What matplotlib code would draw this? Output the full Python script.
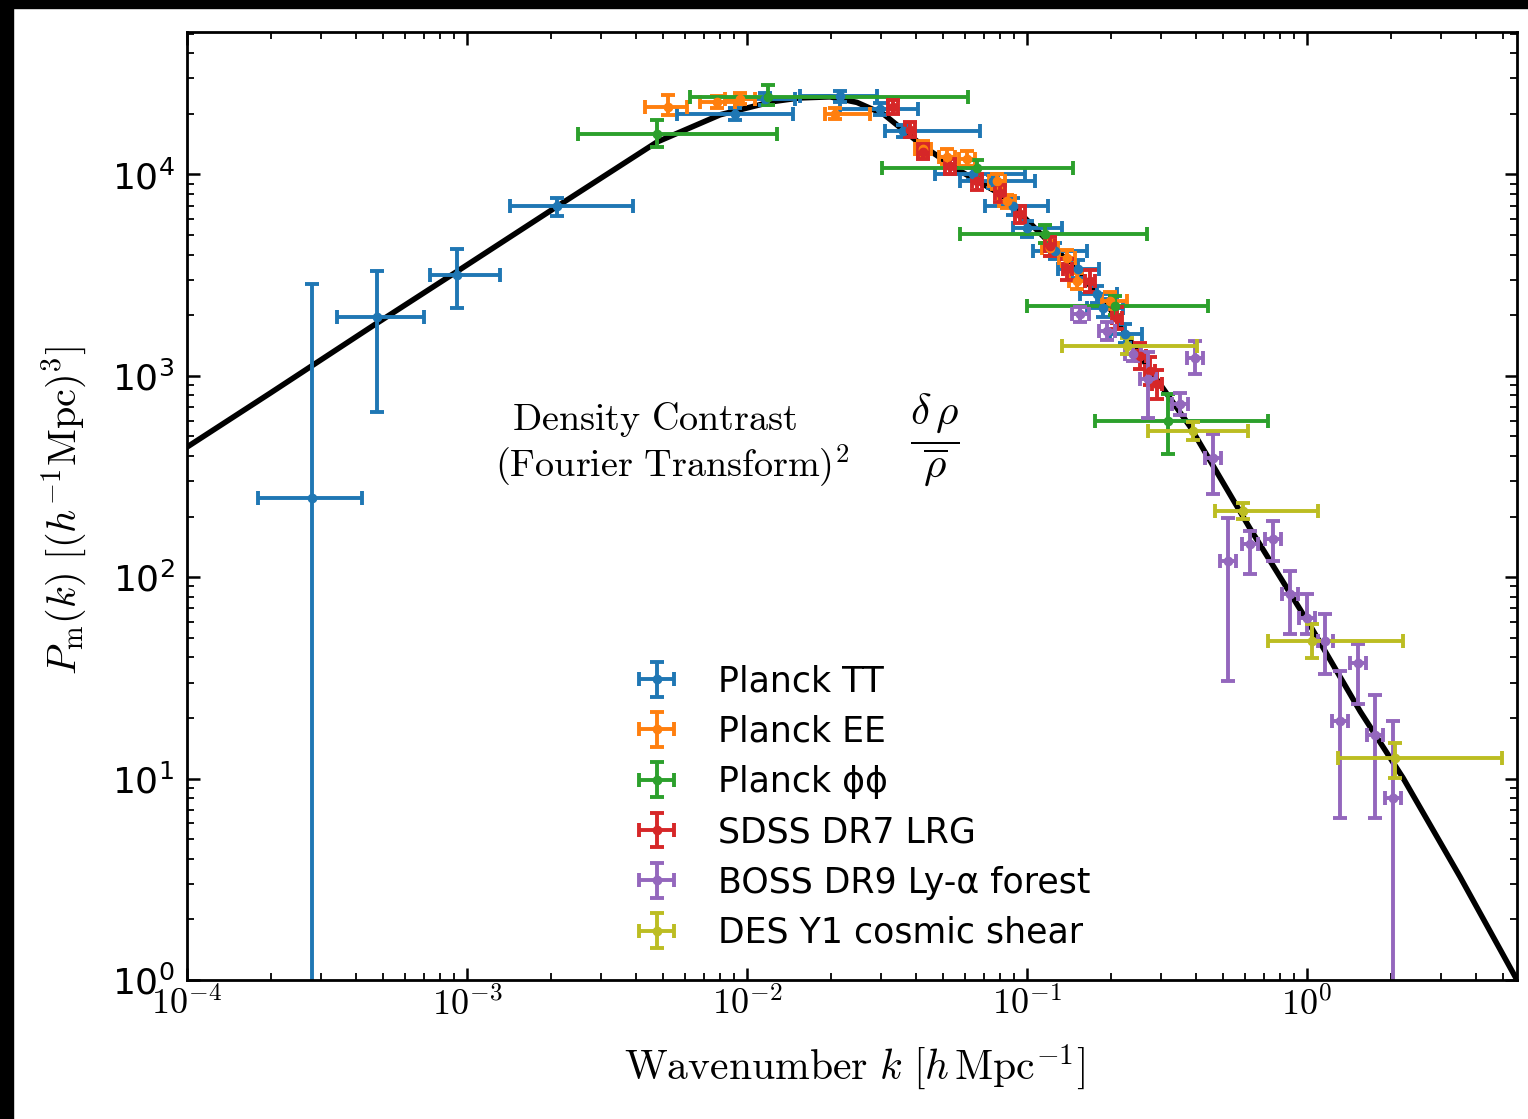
import numpy as np
import matplotlib
matplotlib.use("Agg")
import matplotlib.pyplot as plt
from matplotlib.patches import Rectangle
from matplotlib.ticker import NullFormatter

plt.rcParams['font.family'] = ['DejaVu Sans']
plt.rcParams['mathtext.fontset'] = 'cm'

# --- data ----------------------------------------------------------------
# theory curve (k in h/Mpc, P in (Mpc/h)^3)
theory_k = [1e-4, 1.98e-4, 4.69e-4, 9.21e-4, 2.10e-3, 4.77e-3, 8.02e-3, 0.0123,
            0.0154, 0.0198, 0.0247, 0.0308, 0.0426, 0.0577, 0.0802, 0.0969,
            0.126, 0.158, 0.198, 0.254, 0.382, 0.625, 1.03, 1.55, 2.20, 3.52, 5.62]
theory_P = [443, 820, 1800, 3300, 6950, 14500, 19800, 23000,
            24000, 24300, 22800, 19900, 13800, 10400, 8000, 6200,
            4300, 3100, 2150, 1250, 560, 175, 57.0, 21.5, 10.1, 3.25, 1.0]

# Planck TT
tt_k = [2.79e-4, 4.77e-4, 9.21e-4, 2.10e-3, 9.06e-3, 0.0116, 0.0215, 0.0298, 0.0360,
        0.0641, 0.0757, 0.0891, 0.100, 0.126, 0.152, 0.178, 0.187, 0.224]
tt_klo = [1.79e-4, 3.43e-4, 7.38e-4, 1.42e-3, 5.62e-3, 9.2e-3, 0.0154, 0.0215, 0.0311,
          0.0469, 0.0577, 0.0708, 0.0891, 0.105, 0.129, 0.155, 0.164, 0.198]
tt_khi = [4.22e-4, 7.02e-4, 1.31e-3, 3.92e-3, 0.0146, 0.0148, 0.0291, 0.0408, 0.0679,
          0.0984, 0.107, 0.119, 0.133, 0.164, 0.181, 0.209, 0.220, 0.258]
tt_P = [248, 1955, 3170, 6940, 20000, 23800, 24400, 21200, 16500,
        10100, 9230, 6940, 5400, 4150, 3380, 2540, 2170, 1610]
tt_Plo = [0.01, 661, 2170, 6200, 18700, 22200, 22800, 19800, 15400,
          9400, 8600, 6300, 4900, 3800, 3050, 2300, 1950, 1450]
tt_Phi = [2850, 3300, 4250, 7600, 21400, 25500, 26100, 22700, 17700,
          10800, 9900, 7600, 5900, 4550, 3750, 2800, 2400, 1800]

# Planck EE
ee_k = [5.22e-3, 7.82e-3, 9.44e-3, 0.0206, 0.0426, 0.0518, 0.0611, 0.0782, 0.0849,
        0.121, 0.139, 0.151, 0.198]
ee_klo = [4.33e-3, 6.79e-3, 8.34e-3, 0.0190, 0.0398, 0.0485, 0.0573, 0.0731, 0.0795,
          0.113, 0.130, 0.141, 0.185]
ee_khi = [6.11e-3, 9.06e-3, 0.0107, 0.0275, 0.0454, 0.0553, 0.0652, 0.0834, 0.0906,
          0.129, 0.148, 0.161, 0.227]
ee_P = [21700, 23000, 23800, 20000, 13460, 12280, 12000, 9230, 7350, 4300, 3830, 2950, 2350]
ee_Plo = [19800, 21500, 22300, 18800, 12300, 11300, 11000, 8500, 6800, 3950, 3500, 2700, 2150]
ee_Phi = [24900, 24600, 25400, 21300, 14700, 13400, 13100, 10000, 7950, 4700, 4200, 3250, 2600]

# Planck phi-phi
pp_k = [4.77e-3, 0.0119, 0.0662, 0.116, 0.206, 0.319]
pp_klo = [2.49e-3, 6.25e-3, 0.0303, 0.0577, 0.100, 0.175]
pp_khi = [0.0128, 0.0615, 0.146, 0.269, 0.443, 0.726]
pp_P = [15960, 24370, 10720, 5040, 2220, 597]
pp_Plo = [13760, 22220, 9800, 4550, 2000, 409]
pp_Phi = [18750, 27900, 11800, 5600, 2480, 812]

# SDSS DR7 LRG
lrg_k = [0.0332, 0.0382, 0.0426, 0.0531, 0.0662, 0.0802, 0.0944, 0.121, 0.139,
         0.168, 0.209, 0.254, 0.275, 0.291]
lrg_klo = [0.0319, 0.0367, 0.0409, 0.0510, 0.0636, 0.0770, 0.0907, 0.116, 0.134,
           0.161, 0.201, 0.244, 0.264, 0.280]
lrg_khi = [0.0346, 0.0398, 0.0443, 0.0553, 0.0689, 0.0835, 0.0983, 0.126, 0.145,
           0.175, 0.218, 0.265, 0.286, 0.303]
lrg_P = [21700, 16700, 13000, 10960, 9230, 8050, 6340, 4400, 3380, 2950, 1930, 1250, 1057, 910]
lrg_Plo = [20000, 15300, 11900, 10000, 8400, 7300, 5750, 3950, 3000, 2600, 1700, 1080, 900, 770]
lrg_Phi = [23500, 18200, 14200, 12000, 10100, 8850, 6950, 4900, 3800, 3350, 2200, 1450, 1240, 1070]

# BOSS DR9 Ly-alpha forest
lya_k = [0.155, 0.193, 0.239, 0.270, 0.352, 0.398, 0.461, 0.522, 0.625, 0.757,
         0.869, 1.00, 1.16, 1.31, 1.52, 1.75, 2.03]
lya_klo = [0.145, 0.181, 0.224, 0.253, 0.330, 0.373, 0.432, 0.489, 0.585, 0.709,
           0.814, 0.936, 1.09, 1.23, 1.42, 1.64, 1.90]
lya_khi = [0.166, 0.206, 0.255, 0.288, 0.376, 0.425, 0.492, 0.557, 0.668, 0.808,
           0.928, 1.07, 1.24, 1.40, 1.62, 1.87, 2.17]
lya_P = [2024, 1667, 1283, 964, 724, 1225, 391, 121, 147, 155, 83, 63, 48.4, 19.4, 37.3, 16.4, 8.0]
lya_Plo = [1850, 1500, 1180, 617, 640, 1020, 259, 30.7, 104, 120, 52.5, 52, 33, 6.4, 23.6, 6.4, 0.01]
lya_Phi = [2200, 1850, 1400, 1320, 820, 1490, 514, 197, 170, 190, 108, 83, 66, 34.4, 46.8, 25.9, 19.4]

# DES Y1 cosmic shear
des_k = [0.228, 0.392, 0.590, 1.04, 2.06]
des_klo = [0.133, 0.270, 0.469, 0.726, 1.29]
des_khi = [0.405, 0.615, 1.09, 2.20, 4.97]
des_P = [1404, 532, 214, 48.4, 12.6]
des_Plo = [1280, 480, 195, 39.9, 10.1]
des_Phi = [1540, 590, 235, 58.9, 15.0]

labels = ['Planck TT', 'Planck EE', 'Planck ϕϕ', 'SDSS DR7 LRG',
          'BOSS DR9 Ly-α forest', 'DES Y1 cosmic shear']
colors = ['#1f77b4', '#ff7f0e', '#2ca02c', '#d62728', '#9467bd', '#bcbd22']

x_ticks = [1e-4, 1e-3, 1e-2, 1e-1, 1e0]
x_tick_labels = [r'$10^{-4}$', r'$10^{-3}$', r'$10^{-2}$', r'$10^{-1}$', r'$10^{0}$']
y_ticks = [1e0, 1e1, 1e2, 1e3, 1e4]
y_tick_labels = [r'$10^{0}$', r'$10^{1}$', r'$10^{2}$', r'$10^{3}$', r'$10^{4}$']

datasets = [
    (tt_k, tt_klo, tt_khi, tt_P, tt_Plo, tt_Phi),
    (ee_k, ee_klo, ee_khi, ee_P, ee_Plo, ee_Phi),
    (pp_k, pp_klo, pp_khi, pp_P, pp_Plo, pp_Phi),
    (lrg_k, lrg_klo, lrg_khi, lrg_P, lrg_Plo, lrg_Phi),
    (lya_k, lya_klo, lya_khi, lya_P, lya_Plo, lya_Phi),
    (des_k, des_klo, des_khi, des_P, des_Plo, des_Phi),
]

# --- figure ---------------------------------------------------------------
fig = plt.figure(figsize=(15.28, 11.19), dpi=100)
ax = fig.add_axes([187 / 1528, 139 / 1119, 1330 / 1528, 948 / 1119])

ax.plot(theory_k, theory_P, color='black', lw=4.0, zorder=1)

for (k, klo, khi, P, Plo, Phi), lab, col in zip(datasets, labels, colors):
    k = np.array(k)
    P = np.array(P)
    xerr = [k - np.array(klo), np.array(khi) - k]
    yerr = [P - np.array(Plo), np.array(Phi) - P]
    ax.errorbar(k, P, xerr=xerr, yerr=yerr, fmt='o', color=col, ms=6,
                elinewidth=2.8, capsize=5, capthick=2.8, label=lab, zorder=2)

ax.set_xscale('log')
ax.set_yscale('log')
ax.set_xlim(1e-4, 5.62)
ax.set_ylim(1, 5.1e4)

ax.set_xticks(x_ticks)
ax.set_xticklabels(x_tick_labels, fontsize=26, math_fontfamily='cm')
ax.set_yticks(y_ticks)
ax.set_yticklabels(y_tick_labels, fontsize=26, math_fontfamily='dejavusans')
ax.xaxis.set_minor_formatter(NullFormatter())
ax.yaxis.set_minor_formatter(NullFormatter())

ax.tick_params(which='both', direction='in', top=True, right=True)
ax.tick_params(which='major', length=9, width=1.8)
ax.tick_params(which='minor', length=5, width=1.3)
ax.tick_params(axis='y', which='major', pad=9)
ax.tick_params(axis='x', which='major', pad=5)
for sp in ax.spines.values():
    sp.set_linewidth(2.0)

ax.set_xlabel(r'$\mathrm{Wavenumber}\ k\ [h\,\mathrm{Mpc}^{-1}]$', fontsize=30)
ax.xaxis.set_label_coords(0.502, -0.066)
ax.set_ylabel(r'$P_\mathrm{m}(k)\ [(h^{-1}\mathrm{Mpc})^3]$', fontsize=29)
ax.yaxis.set_label_coords(-0.074, 0.495)

ax.text(0.352, 0.591, r'$\mathrm{Density\ Contrast}$', transform=ax.transAxes,
        ha='center', va='center', fontsize=27.5)
ax.text(0.365, 0.543, r'$(\mathrm{Fourier\ Transform})^2$', transform=ax.transAxes,
        ha='center', va='center', fontsize=27.5)
ax.text(0.562, 0.570, r'$\dfrac{\delta\,\rho}{\overline{\rho}}$', transform=ax.transAxes,
        ha='center', va='center', fontsize=31)

ax.legend(loc='upper left', bbox_to_anchor=(0.3376, 0.333), frameon=False,
          fontsize=25, handlelength=1.2, handletextpad=1.15, labelspacing=0.47,
          borderpad=0, borderaxespad=0)

# black frame bits left over from the screenshot
fig.add_artist(Rectangle((0, 1 - 8 / 1119), 1, 8 / 1119, transform=fig.transFigure,
                         color='black', zorder=10))
fig.add_artist(Rectangle((0, 0), 13 / 1528, 1, transform=fig.transFigure,
                         color='black', zorder=10))

fig.savefig('out.png', dpi=100)
